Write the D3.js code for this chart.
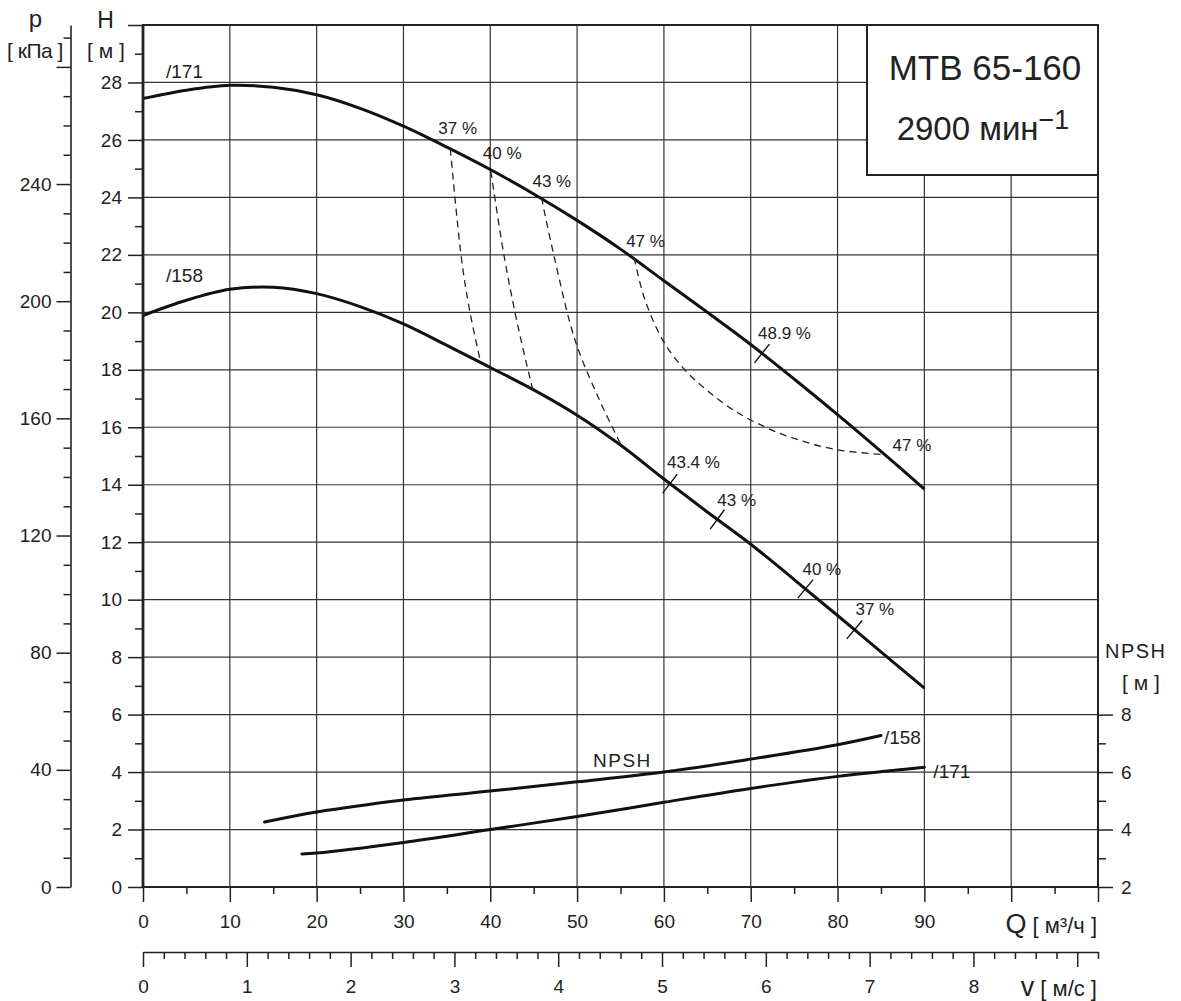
<!DOCTYPE html>
<html><head><meta charset="utf-8">
<script src="https://cdn.jsdelivr.net/npm/d3@7"></script>
<style>
body{margin:0;background:#fff}
text{font-family:"Liberation Sans",Arial,sans-serif;fill:#222}
</style>
</head><body>
<svg id="c" width="1181" height="1001"></svg>
<script>
// ---------- data ----------
const flowQ   = [0,5,10,15,20,25,30,35,40,45,50,55,60,65,70,75,80,85,90];
const head171 = [27.44,27.73,27.9,27.83,27.57,27.1,26.48,25.75,24.97,24.12,23.2,22.2,21.1,20.0,18.88,17.68,16.44,15.16,13.85];
const head158 = [19.89,20.42,20.8,20.87,20.65,20.2,19.6,18.85,18.08,17.3,16.42,15.38,14.2,13.05,11.93,10.7,9.45,8.18,6.92];

const npshQ158 = [14,20,30,40,50,60,70,80,85];
const npsh158  = [4.26,4.61,5.03,5.34,5.66,6.0,6.45,6.95,7.27];
const npshQ171 = [18.3,20,30,40,50,60,70,80,90];
const npsh171  = [3.15,3.18,3.55,4.0,4.45,4.95,5.43,5.85,6.17];

// iso-efficiency lines [Q, H]
const iso37 = [[35.4,25.69],[36.65,21.95],[37.6,20.1],[38.9,18.25]];
const iso40 = [[40.06,24.92],[41.6,21.95],[43.2,19.5],[44.9,17.3]];
const iso43 = [[45.9,23.99],[47.35,21.95],[49.8,19.0],[52.5,17.0],[55.2,15.3]];
const iso47 = [[56.57,21.9],[57.8,20.45],[59.95,18.99],[62.4,18.0],[64.9,17.3],[68.0,16.6],[71.5,16.03],[74.9,15.62],[79.9,15.22],[85.3,15.05]];
const isoLabels = ["37 %","40 %","43 %","47 %"];

// efficiency marks on curves
const marks171Q = [71.3];
const marks171L = ["48.9 %"];
const marks158Q = [60.7,66.15,76.3,81.95];
const marks158L = ["43.4 %","43 %","40 %","37 %"];

// ticks
const qMajor = d3.range(0,111,10);
const qMinor = d3.range(5,110,10);
const hMajor = d3.range(0,31,2);
const hMinor = d3.range(1,30,2);
const pMajor = d3.range(0,281,40);
const pMinor = d3.range(10,291,10).filter(d=>d%40!==0);
const vMajor = d3.range(0,10,1);
const vMinor = d3.range(1,47).filter(i=>i%5!==0).map(i=>+(i*0.2).toFixed(1));
const nMajor = [2,4,6,8];
const nMinor = [3,5,7];

// ---------- scales ----------
const L=143,R=1098,T=25,B=887;
const x  = d3.scaleLinear().domain([0,110]).range([L,R]);
const yH = d3.scaleLinear().domain([0,30]).range([B,T]);
const yP = d3.scaleLinear().domain([0,30*9.81]).range([B,T]);
const yN = d3.scaleLinear().domain([2,32]).range([B,T]);
const xV = d3.scaleLinear().domain([0,9.2]).range([L,R]);

const svg = d3.select("#c");
const INK="#222";

// grid
svg.append("g").selectAll("line").data(qMajor.filter(d=>d>0&&d<110)).join("line")
  .attr("x1",d=>x(d)).attr("x2",d=>x(d)).attr("y1",B).attr("y2",T)
  .attr("stroke","#333").attr("stroke-width",1.2);
svg.append("g").selectAll("line").data(hMajor.filter(d=>d>0&&d<30)).join("line")
  .attr("y1",d=>yH(d)).attr("y2",d=>yH(d)).attr("x1",L).attr("x2",R)
  .attr("stroke","#333").attr("stroke-width",1.2);

// title box
svg.append("rect").attr("x",867).attr("y",T).attr("width",R-867).attr("height",150)
  .attr("fill","#fff").attr("stroke",INK).attr("stroke-width",2);
svg.append("text").attr("x",985).attr("y",80).attr("text-anchor","middle")
  .attr("font-size",35).text("MTB 65-160");
const t2 = svg.append("text").attr("x",983).attr("y",140).attr("text-anchor","middle").attr("font-size",33);
t2.append("tspan").text("2900 мин");
t2.append("tspan").attr("font-size",27).attr("dy",-11).text("−1");

// curves
const curveT = d3.curveCatmullRom.alpha(0.5);
const lineH = d3.line().x(d=>x(d[0])).y(d=>yH(d[1])).curve(curveT);
const lineN = d3.line().x(d=>x(d[0])).y(d=>yN(d[1])).curve(curveT);
const lineIso = d3.line().x(d=>x(d[0])).y(d=>yH(d[1])).curve(curveT);

const zip=(a,b)=>a.map((v,i)=>[v,b[i]]);
[head171,head158].forEach(h=>{
  svg.append("path").attr("d",lineH(zip(flowQ,h))).attr("fill","none")
    .attr("stroke","#111").attr("stroke-width",3).attr("stroke-linejoin","round");
});
[[npshQ158,npsh158],[npshQ171,npsh171]].forEach(([q,n])=>{
  svg.append("path").attr("d",lineN(zip(q,n))).attr("fill","none")
    .attr("stroke","#111").attr("stroke-width",3).attr("stroke-linecap","round");
});
const isoAll=[iso37,iso40,iso43,iso47];
isoAll.forEach(iso=>{
  svg.append("path").attr("d",lineIso(iso)).attr("fill","none")
    .attr("stroke","#222").attr("stroke-width",1.3).attr("stroke-dasharray","7,5");
});
// iso labels
const isoOff=[[-12,-15],[-8,-12],[-9,-11],[-8,-11]];
isoAll.forEach((iso,i)=>{
  svg.append("text").attr("x",x(iso[0][0])+isoOff[i][0]).attr("y",yH(iso[0][1])+isoOff[i][1])
    .attr("font-size",17).text(isoLabels[i]);
});
svg.append("text").attr("x",x(iso47[iso47.length-1][0])+9).attr("y",yH(iso47[iso47.length-1][1])-4)
  .attr("font-size",17).text("47 %");

// marks on curves
function drawMarks(qs, labels, heads, offs){
  const s = d3.scaleLinear().domain(flowQ).range(heads);
  qs.forEach((q,i)=>{
    const cx=x(q), cy=yH(s(q));
    const ax=x(q-1), ay=yH(s(q-1)), bx=x(q+1), by=yH(s(q+1));
    let tx=bx-ax, ty=by-ay; const n=Math.hypot(tx,ty); tx/=n; ty/=n;
    const px=ty, py=-tx, len=12;
    svg.append("line").attr("x1",cx-px*len).attr("y1",cy-py*len).attr("x2",cx+px*len).attr("y2",cy+py*len)
      .attr("stroke","#111").attr("stroke-width",1.4);
    svg.append("text").attr("x",cx+offs[i][0]).attr("y",cy+offs[i][1]).attr("font-size",17).text(labels[i]);
  });
}
drawMarks(marks171Q, marks171L, head171, [[-4,-14]]);
drawMarks(marks158Q, marks158L, head158, [[-3,-16],[0,-13],[-3,-14],[1,-15]]);

// curve labels
svg.append("text").attr("x",166).attr("y",78).attr("font-size",19).text("/171");
svg.append("text").attr("x",166).attr("y",282).attr("font-size",19).text("/158");
svg.append("text").attr("x",x(npshQ158[npshQ158.length-1])+3).attr("y",yN(npsh158[npsh158.length-1])+8).attr("font-size",19).text("/158");
svg.append("text").attr("x",x(npshQ171[npshQ171.length-1])+9).attr("y",yN(npsh171[npsh171.length-1])+11).attr("font-size",19).text("/171");
svg.append("text").attr("x",593).attr("y",767).attr("font-size",19).attr("letter-spacing",1.5).text("NPSH");

// ---------- axes ----------
function style(g, fs, keepDomain){
  g.attr("font-size",fs).attr("font-family",'"Liberation Sans",Arial,sans-serif');
  if(!keepDomain) g.select(".domain").remove();
  else g.select(".domain").attr("stroke",INK).attr("stroke-width",1.6);
  g.selectAll(".tick line").attr("stroke",INK).attr("stroke-width",1.5);
  g.selectAll("text").attr("fill",INK);
  return g;
}
// H
style(svg.append("g").attr("transform",`translate(${L},0)`)
  .call(d3.axisLeft(yH).tickValues(hMajor).tickSize(15).tickPadding(6).tickFormat(d=>d<30?d:"")),19);
style(svg.append("g").attr("transform",`translate(${L},0)`)
  .call(d3.axisLeft(yH).tickValues(hMinor).tickSize(8).tickFormat("")),19);
// p
style(svg.append("g").attr("transform","translate(70.5,0)")
  .call(d3.axisLeft(yP).tickValues(pMajor).tickSize(14).tickSizeOuter(0).tickPadding(5).tickFormat(d=>d<=240?d:"")),19,true);
style(svg.append("g").attr("transform","translate(70.5,0)")
  .call(d3.axisLeft(yP).tickValues(pMinor).tickSize(7).tickFormat("")),19);
// Q
style(svg.append("g").attr("transform",`translate(0,${B})`)
  .call(d3.axisBottom(x).tickValues(qMajor).tickSize(15).tickPadding(13).tickFormat(d=>d<=90?d:"")),19);
style(svg.append("g").attr("transform",`translate(0,${B})`)
  .call(d3.axisBottom(x).tickValues(qMinor).tickSize(7).tickFormat("")),19);
// v
style(svg.append("g").attr("transform","translate(0,952)")
  .call(d3.axisBottom(xV).tickValues(vMajor).tickSize(15).tickSizeOuter(0).tickPadding(13).tickFormat(d=>d<=8?d:"")),19,true);
style(svg.append("g").attr("transform","translate(0,952)")
  .call(d3.axisBottom(xV).tickValues(vMinor).tickSize(7).tickFormat("")),19);
// NPSH
style(svg.append("g").attr("transform",`translate(${R},0)`)
  .call(d3.axisRight(yN).tickValues(nMajor).tickSize(15).tickPadding(8)),19);
style(svg.append("g").attr("transform",`translate(${R},0)`)
  .call(d3.axisRight(yN).tickValues(nMinor).tickSize(8).tickFormat("")),19);

// frame
svg.append("rect").attr("x",L).attr("y",T).attr("width",R-L).attr("height",B-T)
  .attr("fill","none").attr("stroke",INK).attr("stroke-width",2);
svg.append("line").attr("x1",L).attr("x2",L).attr("y1",T).attr("y2",B).attr("stroke",INK).attr("stroke-width",2.8);

// axis titles
svg.append("text").attr("x",35.5).attr("y",27).attr("text-anchor","middle").attr("font-size",24).text("p");
svg.append("text").attr("x",35).attr("y",58).attr("text-anchor","middle").attr("font-size",21).attr("letter-spacing",-0.5).text("[ кПа ]");
svg.append("text").attr("x",105.5).attr("y",28).attr("text-anchor","middle").attr("font-size",23).text("H");
svg.append("text").attr("x",106).attr("y",58).attr("text-anchor","middle").attr("font-size",21).text("[ м ]");
const qt = svg.append("text").attr("x",1097).attr("y",933).attr("text-anchor","end");
qt.append("tspan").attr("font-size",27).text("Q");
qt.append("tspan").attr("font-size",22).text(" [ м³/ч ]");
const vt = svg.append("text").attr("x",1097).attr("y",996).attr("text-anchor","end");
vt.append("tspan").attr("font-size",27).text("v");
vt.append("tspan").attr("font-size",22).text(" [ м/с ]");
svg.append("text").attr("x",1105).attr("y",658).attr("font-size",20).attr("letter-spacing",1.5).text("NPSH");
svg.append("text").attr("x",1122).attr("y",690).attr("font-size",21).text("[ м ]");
</script>
</body></html>
